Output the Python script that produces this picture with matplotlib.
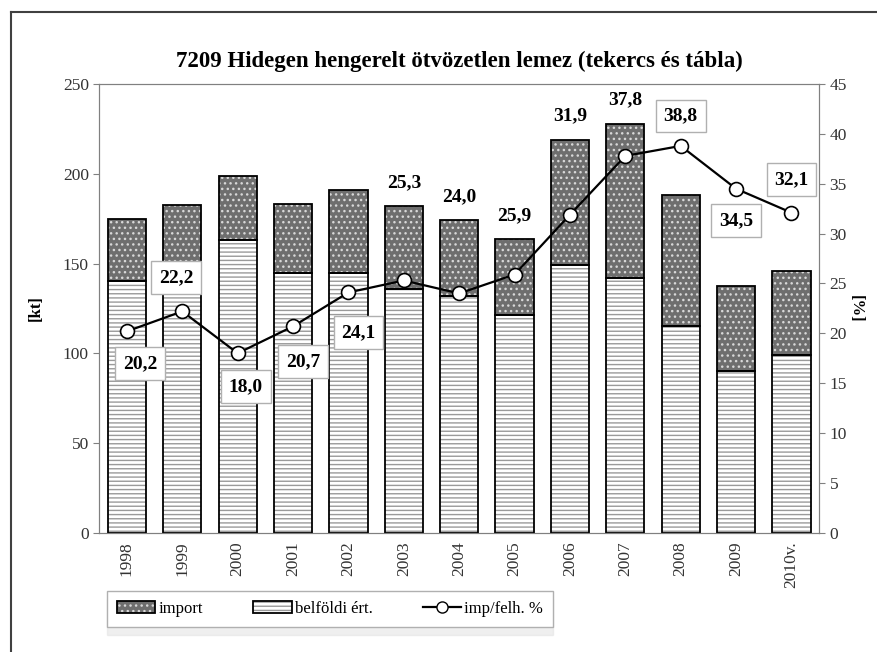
import numpy as np
import matplotlib
matplotlib.use("Agg")
import matplotlib.pyplot as plt
from matplotlib.patches import Patch
from matplotlib.lines import Line2D

plt.rcParams['font.family'] = ['Liberation Serif', 'DejaVu Serif']
plt.rcParams['hatch.linewidth'] = 1.0

years = ['1998', '1999', '2000', '2001', '2002', '2003', '2004', '2005',
         '2006', '2007', '2008', '2009', '2010v.']
belfoldi = [140, 142, 163, 145, 145, 136, 132, 121.5, 149, 142, 115, 90, 99]
imports = [35, 40.5, 36, 38, 46, 46, 42, 42, 70, 86, 73, 47.5, 47]
pct = [20.2, 22.2, 18.0, 20.7, 24.1, 25.3, 24.0, 25.9, 31.9, 37.8, 38.8, 34.5, 32.1]
pct_text = ['20,2', '22,2', '18,0', '20,7', '24,1', '25,3', '24,0', '25,9',
            '31,9', '37,8', '38,8', '34,5', '32,1']

# label placement: (dx px, dy px); None -> above the bar, no box
label_pos = [(13, -32), (-6, 34), (8, -33), (10, -35),
             (10, -40), None, None, None, None, None,
             (0, 30), (0, -32), (0, 33)]

x = np.arange(len(years))
w = 0.69
total = np.array(belfoldi) + np.array(imports)

fig = plt.figure(figsize=(8.78, 6.52), dpi=100)
ax = fig.add_axes([0.113, 0.183, 0.82, 0.688])
ax2 = ax.twinx()

gray = '#808080'

# belföldi (white with horizontal grey lines)
ax.bar(x, belfoldi, w, color='white', edgecolor='#9a9a9a', hatch='----', lw=0, zorder=2)
ax.bar(x, belfoldi, w, fill=False, edgecolor='black', lw=1.3, zorder=3)
# import (dark grey stipple)
ax.bar(x, imports, w, bottom=belfoldi, color='#6e6e6e', edgecolor='#d8d8d8',
       hatch='...', lw=0, zorder=2)
ax.bar(x, imports, w, bottom=belfoldi, fill=False, edgecolor='black', lw=1.3, zorder=3)

ax.set_xlim(-0.5, len(years) - 0.5)
ax.set_ylim(0, 250)
ax.set_yticks(np.arange(0, 251, 50))
ax.set_xticks(x)
ax.set_xticklabels(years, rotation=90, fontsize=12.5)
ax.set_ylabel('[kt]', fontsize=12, fontweight='bold', labelpad=14)

ax2.set_ylim(0, 45)
ax2.set_yticks(np.arange(0, 46, 5))
ax2.set_ylabel('[%]', fontsize=12, fontweight='bold', rotation=270, labelpad=12)

ax2.plot(x, pct, color='black', lw=1.6, marker='o', ms=10, mfc='white',
         mec='black', mew=1.2, zorder=5)

for a in (ax, ax2):
    for s in a.spines.values():
        s.set_color(gray)
    a.tick_params(colors='#333333', labelsize=12.5, length=4, color=gray)
ax.tick_params(axis='x', length=0, pad=6)

bbox = dict(boxstyle='square,pad=0.4', fc='white', ec='#b0b0b0', lw=1)
for i, pos in enumerate(label_pos):
    if pos is None:
        ax.annotate(pct_text[i], (x[i], total[i]), xytext=(0, 17),
                    textcoords='offset points', ha='center', va='center',
                    fontsize=14, fontweight='bold', zorder=6)
    else:
        dx, dy = pos
        ax2.annotate(pct_text[i], (x[i], pct[i]), xytext=(dx * 0.72, dy * 0.72),
                     textcoords='offset points', ha='center', va='center',
                     fontsize=14, fontweight='bold', bbox=bbox, zorder=6)

ax.set_title('7209 Hidegen hengerelt ötvözetlen lemez (tekercs és tábla)',
             fontsize=16.5, fontweight='bold', pad=12)

h_imp = (Patch(fc='#6e6e6e', ec='#d8d8d8', hatch='...', lw=0),
         Patch(fill=False, ec='black', lw=1.3))
h_bel = (Patch(fc='white', ec='#9a9a9a', hatch='----', lw=0),
         Patch(fill=False, ec='black', lw=1.3))
h_line = Line2D([], [], color='black', lw=1.6, marker='o', ms=8, mfc='white', mec='black')
leg = fig.legend([h_imp, h_bel, h_line], ['import', 'belföldi ért.', 'imp/felh. %'],
                 loc='center', bbox_to_anchor=(0.376, 0.066), ncol=3, fontsize=12,
                 frameon=True, fancybox=False, edgecolor='#b0b0b0',
                 columnspacing=3.0, handlelength=2.3, handletextpad=0.2,
                 borderpad=0.6, borderaxespad=0,
                 shadow={'color': '#e0e0e0', 'ox': 0, 'oy': -6})

# outer frame
fig.add_artist(Line2D([11 / 878, 1], [1 - 12 / 652] * 2, color='#404040', lw=1.5))
fig.add_artist(Line2D([11 / 878] * 2, [0, 1 - 12 / 652], color='#404040', lw=1.5))

fig.savefig('out.png', dpi=100)
